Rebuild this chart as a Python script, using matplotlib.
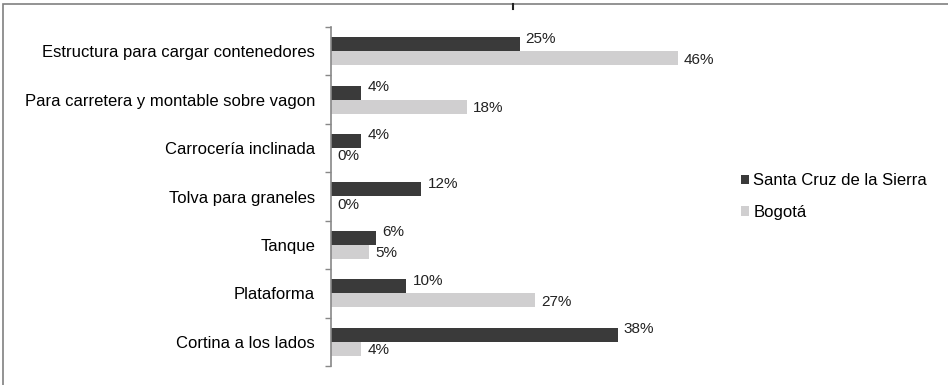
import numpy as np
import matplotlib.pyplot as plt
from matplotlib.patches import Rectangle

plt.rcParams['font.family'] = ['Liberation Sans', 'DejaVu Sans']

# datos
categorias = ['Estructura para cargar contenedores',
              'Para carretera y montable sobre vagon',
              'Carrocería inclinada',
              'Tolva para graneles',
              'Tanque',
              'Plataforma',
              'Cortina a los lados']
santa_cruz = [25, 4, 4, 12, 6, 10, 38]
bogota = [46, 18, 0, 0, 5, 27, 4]
series = ['Santa Cruz de la Sierra', 'Bogotá']

c_oscuro = '#3a3a3a'
c_claro = '#d0cfd0'

fig = plt.figure(figsize=(9.48, 3.85), dpi=100)
ax = fig.add_axes([331/948, 1-366/385, (708-331)/948, (366-27)/385])

y = np.arange(len(categorias))
h = 0.29
ax.barh(y - h/2, santa_cruz, height=h, color=c_oscuro, label=series[0])
ax.barh(y + h/2, bogota, height=h, color=c_claro, label=series[1])

# etiquetas de valor
for i, v in enumerate(santa_cruz):
    ax.annotate(f'{v}%', (v, i - h/2), xytext=(4.5, 4), textcoords='offset points',
                ha='left', va='center', fontsize=11, color='#222222')
for i, v in enumerate(bogota):
    ax.annotate(f'{v}%', (v, i + h/2), xytext=(4.5, -1), textcoords='offset points',
                ha='left', va='center', fontsize=11, color='#222222')

ax.set_xlim(0, 50)
ax.set_ylim(len(categorias) - 0.5, -0.5)
ax.set_yticks(y)
ax.set_yticklabels(categorias, fontsize=12)
ax.set_yticks(np.arange(len(categorias) + 1) - 0.5, minor=True)
ax.tick_params(axis='y', which='major', length=0, pad=11.5)
ax.tick_params(axis='y', which='minor', length=4, color='#888888', width=1)
ax.set_xticks([])
for s in ['top', 'right', 'bottom']:
    ax.spines[s].set_visible(False)
ax.spines['left'].set_color('#888888')
ax.spines['left'].set_linewidth(1.2)

leg = ax.legend(loc='center left', bbox_to_anchor=(734/948, 1 - 196.5/385),
                bbox_transform=fig.transFigure, frameon=False, fontsize=12,
                handlelength=0.5, handleheight=0.5, handletextpad=0.25,
                labelspacing=1.0, borderaxespad=0)

# marco exterior
fig.patches.append(Rectangle((3/948, -0.1), 1.2, 1.1 - 4/385,
                             transform=fig.transFigure, fill=False,
                             edgecolor='#808080', linewidth=1.2))
fig.add_artist(plt.Line2D([513/948, 513/948], [1-4/385, 1-9/385],
                          transform=fig.transFigure, color='#222222', linewidth=1.5))

fig.savefig('out.png', dpi=100)
